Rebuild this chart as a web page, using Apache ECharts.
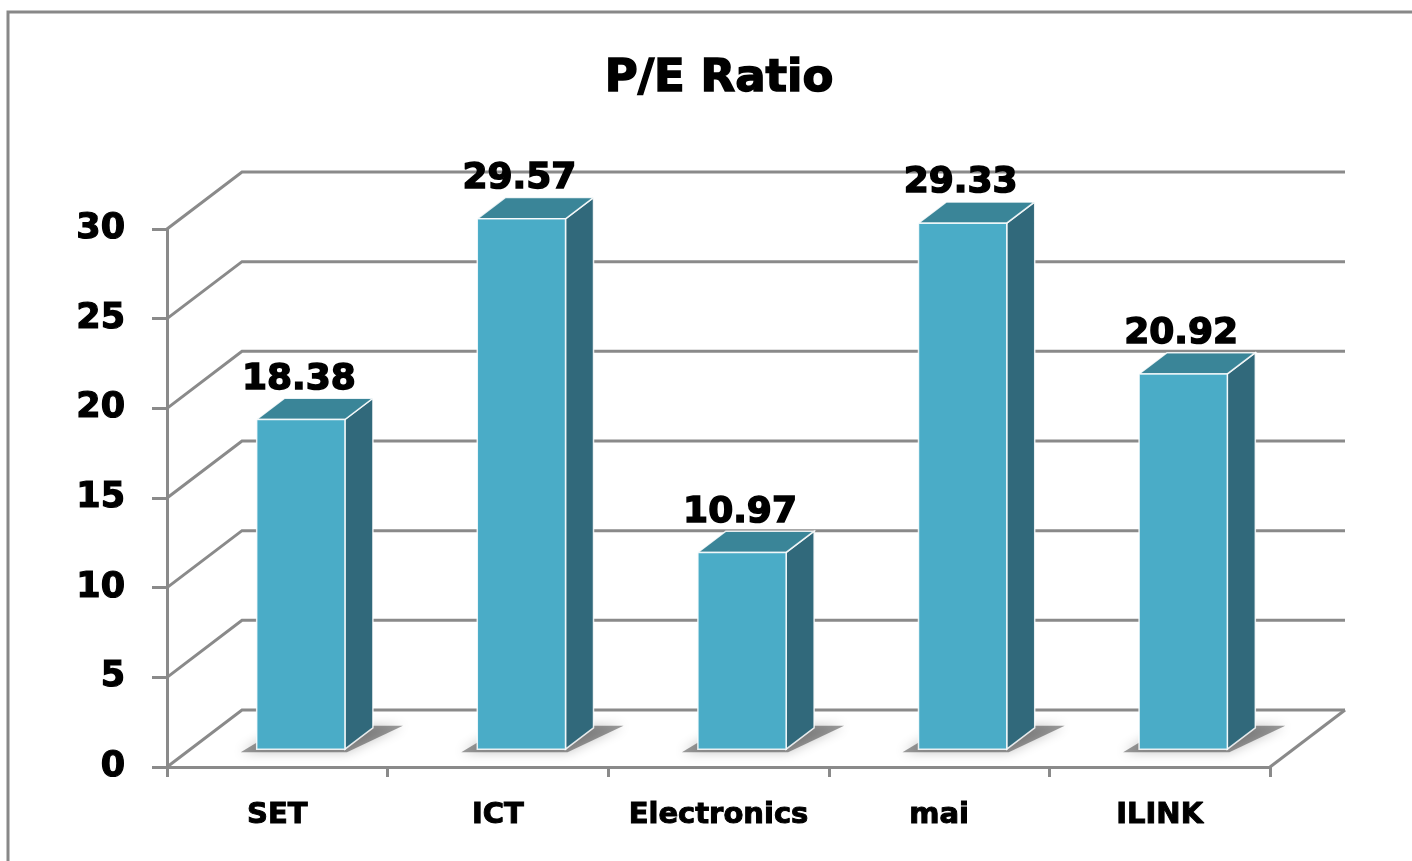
<!DOCTYPE html>
<html>
<head>
<meta charset="utf-8">
<script src="https://cdn.jsdelivr.net/npm/echarts@6/dist/echarts.min.js"></script>
<style>
  html, body { margin: 0; padding: 0; background: #fff; }
  #chart { width: 1412px; height: 861px; }
</style>
</head>
<body>
<div id="chart"></div>
<script>
var categories = ['SET', 'ICT', 'Electronics', 'mai', 'ILINK'];
var peValues = [18.38, 29.57, 10.97, 29.33, 20.92];
var yTicks = [0, 5, 10, 15, 20, 25, 30];

// depth of the fake 3d box (px)
var DX = 75, DY = -57;
var BAR_DEPTH = 0.373;   // part of the depth used by a bar
var BAR_WIDTH = 0.40;    // part of the category used by a bar
var FONT = '"DejaVu Sans", Arial, sans-serif';
var LINE = '#8a8a8a';

var myChart = echarts.init(document.getElementById('chart'));

var renderWall = function (params, api) {
    var cs = params.coordSys;
    var v = api.value(1);
    var y = api.coord([0, v])[1];
    var x0 = cs.x, x1 = cs.x + cs.width;
    var children = [{
        type: 'polyline',
        shape: { points: [[x0, y], [x0 + DX, y + DY], [x1 + DX, y + DY]] },
        style: { stroke: LINE, lineWidth: 3, fill: null }
    }];
    if (v === 0) {
        children.push({
            type: 'line',
            shape: { x1: x1, y1: y, x2: x1 + DX, y2: y + DY },
            style: { stroke: LINE, lineWidth: 3 }
        });
    }
    return { type: 'group', children: children };
};

var renderBar = function (params, api) {
    var idx = api.value(0);
    var val = api.value(1);
    var top = api.coord([idx, val]);
    var base = api.coord([idx, 0]);
    var w = api.size([1, 0])[0] * BAR_WIDTH;
    var ox = DX * (1 - BAR_DEPTH) / 2, oy = DY * (1 - BAR_DEPTH) / 2;
    var sx = DX * BAR_DEPTH, sy = DY * BAR_DEPTH;
    var l = top[0] + ox - w / 2, r = top[0] + ox + w / 2;
    var t = top[1] + oy, b = base[1] + oy;
    var edge = 'rgba(255,255,255,0.85)';
    return {
        type: 'group',
        children: [
            {
                type: 'polygon',
                shape: { points: [[l - 16, b + 3], [r + 2, b + 3], [r + sx + 30, b + sy - 2], [l + sx, b + sy - 2]] },
                style: { fill: 'rgba(0,0,0,0.38)', shadowBlur: 12, shadowColor: 'rgba(0,0,0,0.6)' }
            },
            {
                type: 'polygon',
                shape: { points: [[r, t], [r + sx, t + sy], [r + sx, b + sy], [r, b]] },
                style: { fill: '#31697b', stroke: edge, lineWidth: 1.5 }
            },
            {
                type: 'polygon',
                shape: { points: [[l, t], [l + sx, t + sy], [r + sx, t + sy], [r, t]] },
                style: { fill: '#3a8598', stroke: edge, lineWidth: 1.5 }
            },
            {
                type: 'rect',
                shape: { x: l, y: t, width: r - l, height: b - t },
                style: { fill: '#4aacc7', stroke: edge, lineWidth: 1.5 }
            },
            {
                type: 'text',
                x: (l + r) / 2 - 2,
                y: t + sy - 1,
                style: {
                    text: val.toFixed(2),
                    fill: '#000',
                    stroke: '#000',
                    lineWidth: 1.5,
                    font: 'bold 36px ' + FONT,
                    textAlign: 'center',
                    textVerticalAlign: 'bottom'
                }
            }
        ]
    };
};

var option = {
    animation: false,
    backgroundColor: '#fff',
    graphic: [
        {
            type: 'polyline',
            shape: { points: [[8, 900], [8, 12], [1420, 12]] },
            style: { fill: null, stroke: '#888', lineWidth: 3 },
            z: 0
        },
        {
            type: 'text',
            x: 719,
            y: 79,
            style: {
                text: 'P/E Ratio',
                fill: '#000',
                stroke: '#000',
                lineWidth: 1.5,
                font: 'bold 45px ' + FONT,
                textAlign: 'center',
                textVerticalAlign: 'middle'
            }
        }
    ],
    grid: { left: 167, right: 142, top: 229, bottom: 94 },
    xAxis: {
        type: 'category',
        data: categories,
        boundaryGap: true,
        axisLine: { lineStyle: { color: LINE, width: 3 } },
        axisTick: { show: true, interval: 0, length: 10, lineStyle: { color: LINE, width: 3 } },
        axisLabel: {
            interval: 0, color: '#000', fontFamily: FONT, fontWeight: 'bold', fontSize: 29, margin: 34,
            textBorderColor: '#000', textBorderWidth: 1
        },
        splitLine: { show: false }
    },
    yAxis: {
        type: 'value',
        min: 0,
        max: 30,
        interval: 5,
        axisLine: { show: true, lineStyle: { color: LINE, width: 3 } },
        axisTick: { show: true, length: 15, lineStyle: { color: LINE, width: 3 } },
        axisLabel: {
            color: '#000', fontFamily: FONT, fontWeight: 'bold', fontSize: 35, margin: 42,
            textBorderColor: '#000', textBorderWidth: 1.2
        },
        splitLine: { show: false }
    },
    series: [
        {
            type: 'custom',
            renderItem: renderWall,
            clip: false,
            silent: true,
            z: 1,
            data: yTicks.map(function (v) { return [0, v]; })
        },
        {
            type: 'custom',
            renderItem: renderBar,
            clip: false,
            z: 3,
            data: peValues.map(function (v, i) { return [i, v]; })
        }
    ]
};
myChart.setOption(option);
</script>
</body>
</html>
